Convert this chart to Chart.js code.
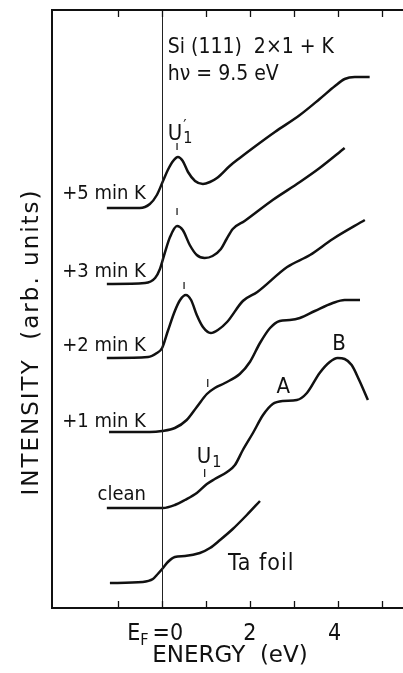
<!DOCTYPE html>
<html><head><meta charset="utf-8">
<script src="https://cdn.jsdelivr.net/npm/chart.js@4/dist/chart.umd.min.js"></script>
<style>html,body{margin:0;padding:0;background:#fff;}canvas{display:block;}</style>
</head><body>
<canvas id="c" width="403" height="673"></canvas>
<script>
// ---- data (energy in eV, intensity in arbitrary units) ----
const energyK5 = [-1.26,-0.51,-0.28,-0.12,0.02,0.13,0.25,0.36,0.47,0.59,0.75,0.93,1.09,1.25,1.54,1.77,2.07,2.57,3.14,3.59,3.94,4.16,4.39,4.73];
const intensityK5 = [400,400,404,413,427,438,447,451,447,436,427,424,426,430,442,450,460,476,493,509,522,529,531,531];
const energyK3 = [-1.26,-0.39,-0.16,-0.05,0.06,0.18,0.34,0.47,0.63,0.79,0.97,1.15,1.34,1.47,1.61,1.88,2.52,3.14,3.59,4.16];
const intensityK3 = [324,325,330,339,355,371,382,378,363,353,350,352,359,369,379,387,408,426,440,460];
const energyK2 = [-1.26,-0.32,-0.12,0.00,0.13,0.29,0.41,0.54,0.66,0.79,0.93,1.11,1.27,1.48,1.84,2.17,2.85,3.37,3.89,4.62];
const intensityK2 = [250,251,255,260,277,297,308,313,308,293,281,275,278,286,307,316,341,353,369,388];
const energyK1 = [-1.21,-0.28,0.00,0.29,0.56,0.79,1.02,1.20,1.43,1.77,2.00,2.23,2.46,2.68,2.91,3.14,3.48,3.89,4.16,4.51];
const intensityK1 = [176,176,177,180,188,201,214,220,225,234,246,265,280,287,288,290,297,305,308,308];
const energyClean = [-1.26,-0.28,0.02,0.29,0.52,0.79,1.02,1.20,1.48,1.66,1.84,2.07,2.30,2.52,2.75,3.07,3.30,3.59,3.82,4.00,4.16,4.32,4.49,4.69];
const intensityClean = [100,100,100,103,108,115,124,129,136,143,158,175,193,204,207,208,215,235,246,250,249,243,228,208];
const energyTa = [-1.19,-0.44,-0.21,-0.10,0.02,0.13,0.29,0.52,0.86,1.09,1.32,1.61,1.93,2.23];
const intensityTa = [25,26,29,34,40,46,51,52,55,60,68,79,93,107];

// peak marker positions (energy, low/high intensity of the short bar)
const markerEnergy = [0.34,0.34,0.50,1.04,0.97];
const markerLow = [458,393,319,221,131];
const markerHigh = [465,400,326,229,139];

// tick values and labels
const xTicks = [-1,0,1,2,3,4,5];
const curveNames = ["+5 min K","+3 min K","+2 min K","+1 min K","clean"];
const curveNameIntensity = [409,331,257,181,108];

// ---- build datasets ----
function pts(xs, ys){ return xs.map((v,i)=>({x:v,y:ys[i]})); }
const curveStyle = {borderColor:'#111',borderWidth:2.5,pointRadius:0,showLine:true,fill:false,cubicInterpolationMode:'monotone'};
const datasets = [
  {label:'+5 min K', data:pts(energyK5,intensityK5), ...curveStyle},
  {label:'+3 min K', data:pts(energyK3,intensityK3), ...curveStyle},
  {label:'+2 min K', data:pts(energyK2,intensityK2), ...curveStyle},
  {label:'+1 min K', data:pts(energyK1,intensityK1), ...curveStyle},
  {label:'clean', data:pts(energyClean,intensityClean), ...curveStyle},
  {label:'Ta foil', data:pts(energyTa,intensityTa), ...curveStyle},
];
markerEnergy.forEach((e,i)=>{
  datasets.push({label:'marker'+i, data:[{x:e,y:markerLow[i]},{x:e,y:markerHigh[i]}],
    borderColor:'#111',borderWidth:1.2,pointRadius:0,showLine:true,fill:false,tension:0});
});

const FONT = '"DejaVu Sans Condensed","DejaVu Sans",sans-serif';
const FONTW = '"DejaVu Sans",sans-serif';

const decor = {
  id:'decor',
  afterDatasetsDraw(chart){
    const {ctx, chartArea:a, scales:{x,y}} = chart;
    ctx.save();
    // E_F vertical line
    const x0 = x.getPixelForValue(0);
    ctx.strokeStyle='#222'; ctx.lineWidth=1;
    ctx.beginPath(); ctx.moveTo(Math.round(x0)+0.5,a.top); ctx.lineTo(Math.round(x0)+0.5,a.bottom); ctx.stroke();
    // frame
    ctx.strokeStyle='#111'; ctx.lineWidth=2;
    ctx.beginPath();
    ctx.moveTo(a.right+2,a.top); ctx.lineTo(a.left,a.top); ctx.lineTo(a.left,a.bottom); ctx.lineTo(a.right+2,a.bottom);
    ctx.stroke();
    // inward ticks top & bottom
    ctx.lineWidth=1.3;
    xTicks.forEach(v=>{
      const px = Math.round(x.getPixelForValue(v))+0.5;
      ctx.beginPath(); ctx.moveTo(px,a.bottom); ctx.lineTo(px,a.bottom-7); ctx.stroke();
      ctx.beginPath(); ctx.moveTo(px,a.top); ctx.lineTo(px,a.top+7); ctx.stroke();
    });
    ctx.fillStyle='#111';
    // x tick labels
    const tb = a.bottom+32;
    ctx.font='23px '+FONT; ctx.textBaseline='alphabetic';
    ctx.textAlign='left'; ctx.fillText('E', x0-35, tb);
    ctx.font='16px '+FONT; ctx.fillText('F', x0-22, tb+5);
    ctx.font='23px '+FONT; ctx.textAlign='right'; ctx.fillText('=0', x0+21, tb);
    ctx.textAlign='center';
    ctx.fillText('2', x.getPixelForValue(2), tb);
    ctx.fillText('4', x.getPixelForValue(4)-3, tb);
    // axis titles
    ctx.font='23px '+FONTW;
    ctx.fillText('ENERGY  (eV)', 230, a.bottom+54);
    ctx.save();
    ctx.translate(38, 342); ctx.rotate(-Math.PI/2);
    ctx.letterSpacing='2px';
    ctx.textAlign='center'; ctx.fillText('INTENSITY  (arb. units)', 0, 0);
    ctx.restore();
    // curve names
    ctx.font='20px '+FONT; ctx.textAlign='right';
    curveNames.forEach((n,i)=>{ ctx.fillText(n, x.getPixelForValue(-0.37), y.getPixelForValue(curveNameIntensity[i])); });
    // header
    ctx.textAlign='left'; ctx.font='21px '+FONT;
    ctx.fillText('Si (111)  2\u00d71 + K', x.getPixelForValue(0.13), y.getPixelForValue(555));
    ctx.fillText('h\u03bd = 9.5 eV', x.getPixelForValue(0.13), y.getPixelForValue(528));
    // U'1
    let ux = x.getPixelForValue(0.13), uy = y.getPixelForValue(468);
    ctx.font='22px '+FONT; ctx.fillText('U', ux, uy);
    let uw = ctx.measureText('U').width;
    ctx.font='16px '+FONT; ctx.fillText('1', ux+uw+1, uy+3);
    ctx.fillText('\u2032', ux+uw+1, uy-9);
    // U1 (clean)
    ux = x.getPixelForValue(0.79); uy = y.getPixelForValue(145);
    ctx.font='22px '+FONT; ctx.fillText('U', ux, uy);
    uw = ctx.measureText('U').width;
    ctx.font='16px '+FONT; ctx.fillText('1', ux+uw+1, uy+4);
    // A, B
    ctx.font='22px '+FONT; ctx.textAlign='center';
    ctx.fillText('A', x.getPixelForValue(2.76), y.getPixelForValue(215));
    ctx.fillText('B', x.getPixelForValue(4.03), y.getPixelForValue(258));
    ctx.textAlign='left'; ctx.font='23px '+FONT;
    ctx.save(); ctx.letterSpacing='1px';
    ctx.fillText('Ta foil', x.getPixelForValue(1.50), y.getPixelForValue(38));
    ctx.restore();
    ctx.restore();
  }
};

new Chart(document.getElementById('c'), {
  type:'scatter',
  data:{datasets},
  options:{
    responsive:false, animation:false, devicePixelRatio:1,
    layout:{padding:{left:52,top:10,right:0,bottom:65}},
    plugins:{legend:{display:false},tooltip:{enabled:false}},
    scales:{
      x:{type:'linear',min:-2.51,max:5.49,display:false},
      y:{type:'linear',min:0,max:598,display:false}
    }
  },
  plugins:[decor]
});
</script>
</body></html>
